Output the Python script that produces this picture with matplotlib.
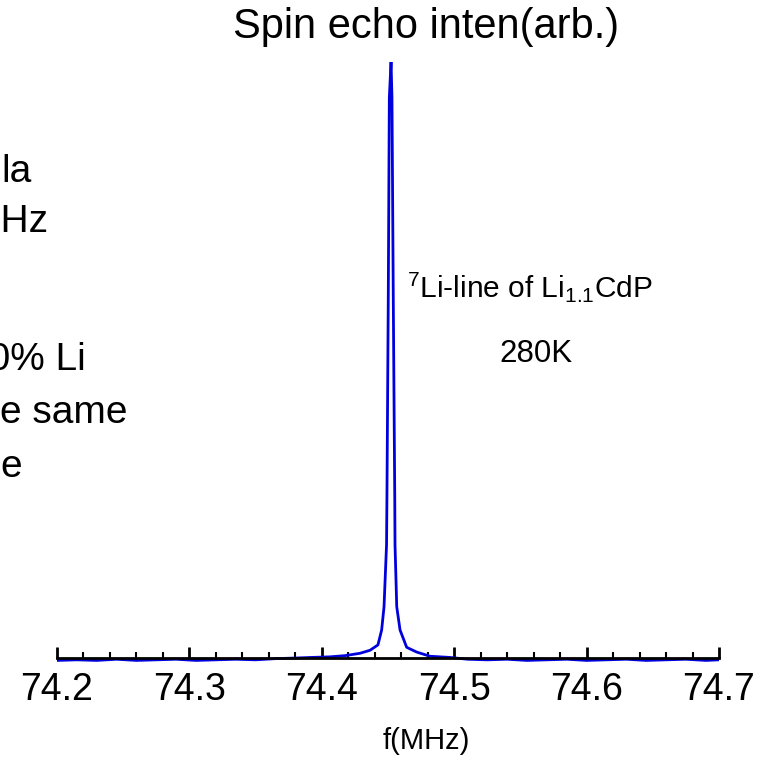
import matplotlib
matplotlib.use("Agg")
import matplotlib.pyplot as plt
from matplotlib.ticker import MultipleLocator, FormatStrFormatter

plt.rcParams["font.family"] = ["Liberation Sans", "DejaVu Sans"]
plt.rcParams["mathtext.fontset"] = "custom"
plt.rcParams["mathtext.rm"] = "Liberation Sans"
plt.rcParams["mathtext.it"] = "Liberation Sans"

# 7Li NMR spin-echo spectrum (frequency in MHz, normalised intensity)
freq = [74.200, 74.215, 74.230, 74.245, 74.260, 74.275, 74.290, 74.305,
        74.320, 74.335, 74.350, 74.365, 74.380, 74.392, 74.4062, 74.4175,
        74.4289, 74.4364, 74.4424, 74.4452, 74.4470, 74.4489, 74.4492,
        74.4502, 74.4510, 74.4523, 74.4530, 74.4540, 74.4551, 74.4553,
        74.4566, 74.4591, 74.4641, 74.4717, 74.4817, 74.4968, 74.510,
        74.525, 74.540, 74.555, 74.570, 74.585, 74.600, 74.615, 74.630,
        74.645, 74.660, 74.675, 74.690, 74.700]
intensity = [-0.004, -0.003, -0.004, -0.002, -0.004, -0.003, -0.002, -0.004,
             -0.003, -0.002, -0.003, -0.001, 0.000, 0.001, 0.002, 0.004,
             0.008, 0.013, 0.022, 0.047, 0.086, 0.19, 0.27,
             0.60, 0.94, 1.00, 0.94, 0.60, 0.27, 0.19,
             0.086, 0.047, 0.018, 0.010, 0.003, 0.001, -0.002,
             -0.003, -0.002, -0.004, -0.003, -0.002, -0.004, -0.003, -0.002,
             -0.004, -0.003, -0.002, -0.004, -0.003]

x_ticks_major = 0.1
x_ticks_minor = 0.02

fig = plt.figure(figsize=(7.63, 7.82), dpi=100)
W, H = 763, 782
ax = fig.add_axes([57 / W, 1 - 664 / H, (719 - 57) / W, (664 - 62) / H])

ax.plot(freq, intensity, color="#0000dd", lw=2, zorder=2)

ax.set_xlim(74.2, 74.7)
ax.set_ylim(-0.01, 1.0)
ax.set_yticks([])
for s in ("left", "right", "top"):
    ax.spines[s].set_visible(False)
ax.spines["bottom"].set_position(("data", 0))
ax.spines["bottom"].set_linewidth(2)
ax.spines["bottom"].set_zorder(3)

ax.xaxis.set_major_locator(MultipleLocator(x_ticks_major))
ax.xaxis.set_minor_locator(MultipleLocator(x_ticks_minor))
ax.xaxis.set_major_formatter(FormatStrFormatter("%.1f"))
ax.tick_params(axis="x", which="major", direction="in", length=8, width=2,
               labelsize=27, pad=10)
ax.tick_params(axis="x", which="minor", direction="in", length=4, width=1.5)

fig.text(426 / W, 1 - 741 / H, "f(MHz)", ha="center", va="center", fontsize=21)
fig.text(426 / W, 1 - 27 / H, "Spin echo inten(arb.)", ha="center",
         va="center", fontsize=30)

ax.text(74.4645, 0.605, r"$^{7}$Li-line of Li$_{1.1}$CdP", ha="left",
        va="baseline", fontsize=21.5)
ax.text(74.5614, 0.497, "280K", ha="center", va="baseline", fontsize=22.5)

# notes running off the left edge
notes = [("la", 1, 182), ("MHz", -31, 232), ("10% Li", -33, 370),
         ("e same", 0, 423), ("e", 0, 477)]
for txt, xp, yp in notes:
    fig.text(xp / W, 1 - yp / H, txt, ha="left", va="baseline", fontsize=28)

fig.savefig("out.png", dpi=100)
